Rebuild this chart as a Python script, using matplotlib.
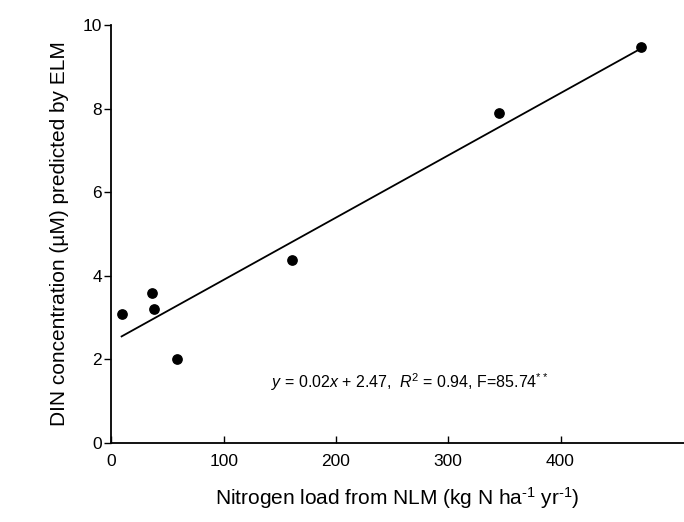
import matplotlib
matplotlib.use("Agg")
import matplotlib.pyplot as plt
import numpy as np

plt.rcParams['font.family'] = ['Liberation Sans', 'DejaVu Sans']
plt.rcParams['mathtext.fontset'] = 'custom'
plt.rcParams['mathtext.rm'] = 'Liberation Sans'
plt.rcParams['mathtext.it'] = 'Liberation Sans:italic'
plt.rcParams['mathtext.bf'] = 'Liberation Sans:bold'

# data
nitrogen_load = [9, 36, 38, 58, 161, 345, 472]
din_pred = [3.08, 3.58, 3.21, 2.01, 4.38, 7.9, 9.48]
fit_slope = 0.0149
fit_intercept = 2.41
x_ticks = [0, 100, 200, 300, 400]
y_ticks = [0, 2, 4, 6, 8, 10]

fig = plt.figure(figsize=(6.84, 5.22), dpi=100)
ax = fig.add_axes([0.163, 0.152, 0.837, 0.80])

ax.scatter(nitrogen_load, din_pred, s=45, color='black', zorder=3)
xf = np.array([min(nitrogen_load), max(nitrogen_load)])
ax.plot(xf, fit_slope * xf + fit_intercept, color='black', lw=1.3)

ax.set_xlim(0, 510)
ax.set_ylim(0, 10)
ax.set_xticks(x_ticks)
ax.set_yticks(y_ticks)
ax.spines['top'].set_visible(False)
ax.spines['right'].set_visible(False)
ax.spines['left'].set_linewidth(1.3)
ax.spines['bottom'].set_linewidth(1.3)
ax.tick_params(axis='y', direction='out', length=5, width=1, labelsize=12.5, pad=2)
ax.tick_params(axis='x', direction='in', length=5, width=1, labelsize=12.5, pad=8)

ax.set_xlabel('Nitrogen load from NLM (kg N ha$^{\\mathrm{\u2010}1}$ yr$^{\\mathrm{\u2010}1}$)', fontsize=15, labelpad=12)
ax.set_ylabel('DIN concentration (µM) predicted by ELM', fontsize=15, labelpad=10)

ax.text(142, 1.45, r'$y$ = 0.02$x$ + 2.47,  $R$$^{\mathrm{2}}$ = 0.94, F=85.74$^{\mathrm{**}}$',
        fontsize=11.5, ha='left', va='center')

fig.savefig('out.png', dpi=100)
